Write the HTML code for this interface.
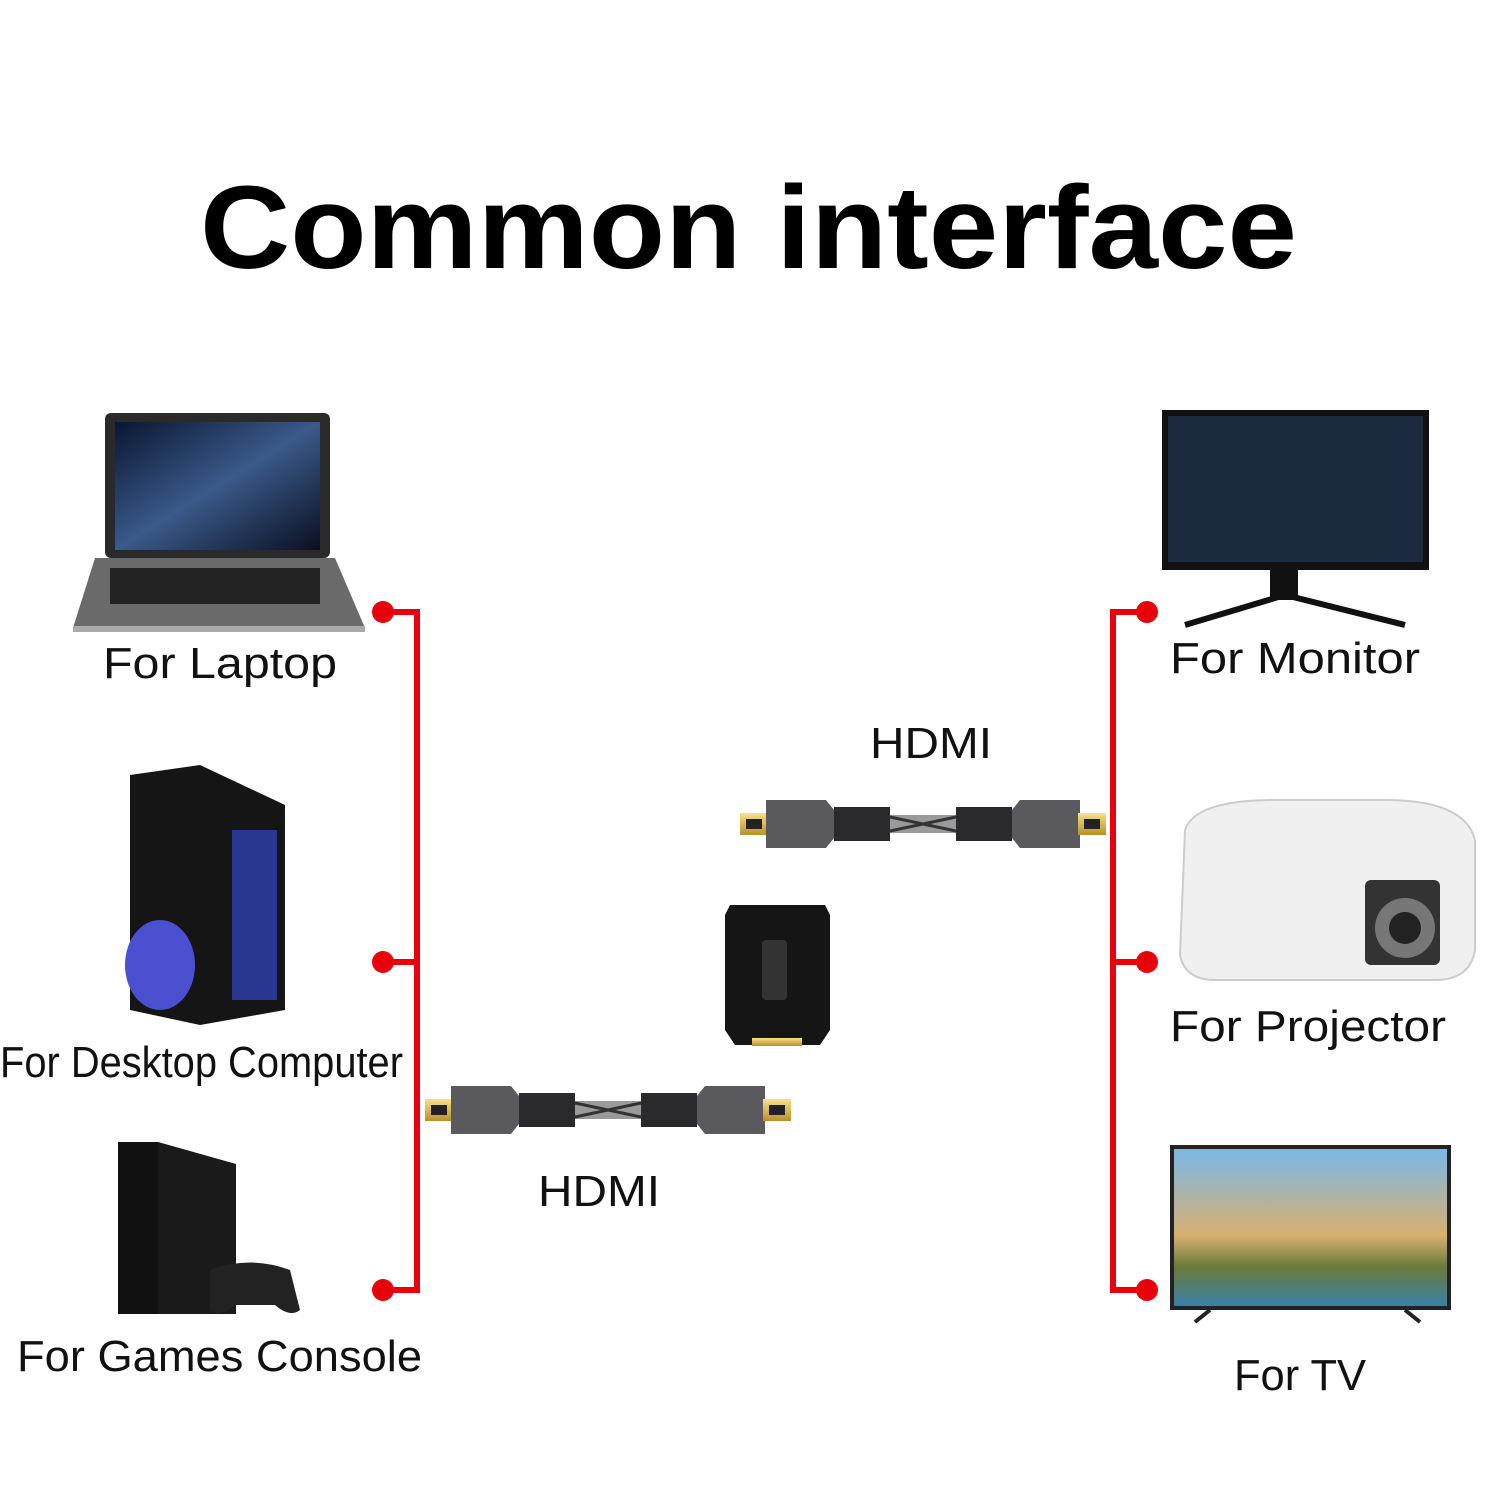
<!DOCTYPE html>
<html><head><meta charset="utf-8"><style>
html,body{margin:0;padding:0;background:#fff;}
svg{display:block}
text{font-family:"Liberation Sans",sans-serif;}
</style></head><body>
<svg width="1500" height="1500" viewBox="0 0 1500 1500" xmlns="http://www.w3.org/2000/svg">
<defs>
<linearGradient id="scr" x1="0" y1="0" x2="1" y2="1"><stop offset="0" stop-color="#0a1630"/><stop offset="0.5" stop-color="#3a5a8a"/><stop offset="1" stop-color="#0a0f20"/></linearGradient>
<linearGradient id="tv" x1="0" y1="0" x2="0" y2="1"><stop offset="0" stop-color="#7ab8e8"/><stop offset="0.55" stop-color="#d8b070"/><stop offset="0.75" stop-color="#6a7a3a"/><stop offset="1" stop-color="#3a80a8"/></linearGradient>
<linearGradient id="gold" x1="0" y1="0" x2="0" y2="1"><stop offset="0" stop-color="#f8e08a"/><stop offset="1" stop-color="#b8902a"/></linearGradient>
<g id="cable">
 <rect x="0" y="18" width="28" height="22" fill="url(#gold)"/>
 <rect x="6" y="24" width="16" height="10" fill="#222"/>
 <path d="M26 5 h60 l8 10 v28 l-8 10 h-60 z" fill="#5a5a5e"/>
 <rect x="94" y="12" width="56" height="34" fill="#2a2a2c"/>
 <rect x="150" y="20" width="66" height="18" fill="#9a9a9a"/>
 <path d="M150 22 l66 14 M150 36 l66 -14" stroke="#333" stroke-width="3"/>
 <rect x="216" y="12" width="56" height="34" fill="#2a2a2c"/>
 <path d="M280 5 h60 v48 h-60 l-8 -10 v-28 z" fill="#5a5a5e"/>
 <rect x="338" y="18" width="28" height="22" fill="url(#gold)"/>
 <rect x="344" y="24" width="16" height="10" fill="#222"/>
</g>
</defs>
<text x="200" y="268" font-size="118" font-weight="bold" fill="#000" textLength="1097" lengthAdjust="spacingAndGlyphs">Common interface</text>

<rect x="105" y="413" width="225" height="145" rx="6" fill="#2a2a2a"/>
<rect x="115" y="422" width="205" height="128" fill="url(#scr)"/>
<path d="M95 558 h240 l30 70 h-292 z" fill="#6a6a6a"/>
<rect x="110" y="568" width="210" height="36" fill="#222"/>
<rect x="73" y="626" width="292" height="6" fill="#aaa"/>
<path d="M130 775 l70 -10 l85 40 v205 l-85 15 l-70 -15 z" fill="#151515"/>
<rect x="232" y="830" width="45" height="170" fill="#3040b0" opacity="0.8"/>
<ellipse cx="160" cy="965" rx="35" ry="45" fill="#4a50d0"/>
<rect x="118" y="1142" width="40" height="172" fill="#111"/>
<path d="M158 1142 l78 22 v150 h-78 z" fill="#1a1a1a"/>
<path d="M210 1270 q40 -15 80 0 l10 40 q-10 8 -25 -5 h-40 q-15 13 -25 5 z" fill="#222"/>
<rect x="1162" y="410" width="267" height="160" fill="#111"/>
<rect x="1168" y="416" width="255" height="146" fill="#1c2a40"/>
<rect x="1270" y="570" width="28" height="30" fill="#111"/>
<path d="M1185 625 l100 -30 l120 30" stroke="#111" stroke-width="6" fill="none"/>
<path d="M1185 830 q10 -30 90 -30 h110 q80 0 90 40 v110 q-5 30 -40 30 h-220 q-30 0 -35 -25 z" fill="#f0f0f0" stroke="#ccc" stroke-width="2"/>
<rect x="1365" y="880" width="75" height="85" rx="6" fill="#333"/>
<circle cx="1405" cy="928" r="30" fill="#777"/><circle cx="1405" cy="928" r="16" fill="#222"/>
<rect x="1170" y="1145" width="281" height="165" fill="#222"/>
<rect x="1174" y="1149" width="273" height="157" fill="url(#tv)"/>
<path d="M1195 1322 l15 -12 M1420 1322 l-15 -12" stroke="#222" stroke-width="4"/>

<g stroke="#e8000a" stroke-width="6" fill="none">
<path d="M383 612 H417 V1290 H383 M383 962 H417"/>
<path d="M1147 612 H1113 V1290 H1147 M1147 962 H1113"/>
</g>
<g fill="#e8000a">
<circle cx="383" cy="612" r="11"/><circle cx="383" cy="962" r="11"/><circle cx="383" cy="1290" r="11"/>
<circle cx="1147" cy="612" r="11"/><circle cx="1147" cy="962" r="11"/><circle cx="1147" cy="1290" r="11"/>
</g>

<use href="#cable" x="740" y="795"/>
<use href="#cable" x="425" y="1081"/>
<path d="M730 905 h95 l5 10 v115 l-10 15 h-85 l-10 -15 v-115 z" fill="#151515"/>
<rect x="762" y="940" width="25" height="60" rx="4" fill="#333"/>
<rect x="752" y="1038" width="50" height="8" fill="url(#gold)"/>

<g font-size="44" fill="#111">
<text x="103" y="678" textLength="234" lengthAdjust="spacingAndGlyphs">For Laptop</text>
<text x="0" y="1077" textLength="403" lengthAdjust="spacingAndGlyphs">For Desktop Computer</text>
<text x="17" y="1371" textLength="405" lengthAdjust="spacingAndGlyphs">For Games Console</text>
<text x="1170" y="673" textLength="250" lengthAdjust="spacingAndGlyphs">For Monitor</text>
<text x="1170" y="1041" textLength="276" lengthAdjust="spacingAndGlyphs">For Projector</text>
<text x="1234" y="1390" textLength="132" lengthAdjust="spacingAndGlyphs">For TV</text>
<text x="870" y="758" textLength="122" lengthAdjust="spacingAndGlyphs">HDMI</text>
<text x="538" y="1206" textLength="122" lengthAdjust="spacingAndGlyphs">HDMI</text>
</g>
</svg>
</body></html>
